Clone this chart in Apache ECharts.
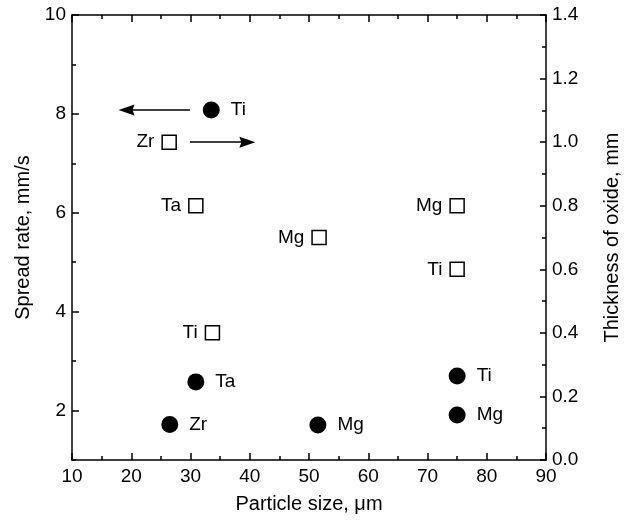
<!DOCTYPE html>
<html>
<head>
<meta charset="utf-8">
<script src="https://cdn.jsdelivr.net/npm/echarts@6/dist/echarts.min.js"></script>
<style>html,body{margin:0;padding:0;background:#fff}#c{width:634px;height:524px}</style>
</head>
<body>
<div id="c"></div>
<script>
// Spread rate (filled circles, left axis)
var circleX = [33.5, 30.9, 26.5, 51.5, 75, 75];
var circleY = [8.08, 2.58, 1.72, 1.71, 2.70, 1.91];
var circleNames = ['Ti', 'Ta', 'Zr', 'Mg', 'Ti', 'Mg'];
// Thickness of oxide (open squares, right axis)
var squareX = [26.4, 30.9, 33.7, 51.7, 75, 75];
var squareY = [1.0, 0.8, 0.4, 0.7, 0.8, 0.6];
var squareNames = ['Zr', 'Ta', 'Ti', 'Mg', 'Mg', 'Ti'];
// Arrows (start -> end) in data coordinates
var arrowLeft = [[29.9, 8.08], [19.2, 8.08]];
var arrowRight = [[29.9, 1.0], [39.6, 1.0]];
// Tick labels
var leftLabels = [2, 4, 6, 8, 10];
var leftMinor = [1, 3, 5, 7, 9];
var xTicks = [10, 20, 30, 40, 50, 60, 70, 80, 90];
var rightTicks = [0.0, 0.2, 0.4, 0.6, 0.8, 1.0, 1.2, 1.4];

var FONT = 'Liberation Sans, Arial, sans-serif';
var INK = '#000';
var chart = echarts.init(document.getElementById('c'), null, {renderer: 'canvas'});

function zip(xs, ys, names) {
  return xs.map(function (x, i) { return {value: [x, ys[i]], name: names[i]}; });
}
function arrow(pair) {
  return [{coord: pair[0]}, {coord: pair[1]}];
}

var lineStyle = {color: '#000', width: 1.5};
var tickFont = {fontFamily: FONT, fontSize: 19, color: INK};
var nameFont = {fontFamily: FONT, fontSize: 20, color: INK};
var markLineBase = {
  silent: true,
  symbol: ['none', 'path://M5,0 L10,16 L5,14 L0,16 Z'],
  symbolSize: [11, 16],
  label: {show: false},
  lineStyle: {color: '#000', width: 1.5, type: 'solid', opacity: 1},
  itemStyle: {color: '#000'}
};
chart.setOption({
  animation: false,
  backgroundColor: '#fff',
  grid: {left: 72, right: 88, top: 15, bottom: 64, containLabel: false},
  xAxis: [{
    type: 'value', min: xTicks[0], max: xTicks[xTicks.length - 1], interval: 10,
    position: 'bottom',
    name: 'Particle size, μm', nameLocation: 'middle', nameGap: 34,
    nameTextStyle: nameFont,
    axisLine: {show: true, lineStyle: lineStyle},
    axisTick: {show: true, inside: true, length: 7, lineStyle: lineStyle},
    minorTick: {show: true, splitNumber: 2, length: 4, lineStyle: lineStyle},
    axisLabel: Object.assign({margin: 7}, tickFont),
    splitLine: {show: false}
  }, {
    type: 'value', min: xTicks[0], max: xTicks[xTicks.length - 1], interval: 10,
    position: 'top',
    axisLine: {show: true, lineStyle: lineStyle},
    axisTick: {show: true, inside: true, length: 7, lineStyle: lineStyle},
    minorTick: {show: true, splitNumber: 2, length: 4, lineStyle: lineStyle},
    axisLabel: {show: false},
    splitLine: {show: false}
  }],
  yAxis: [{
    type: 'value', min: 1, max: 10, position: 'left',
    name: 'Spread rate, mm/s', nameLocation: 'middle', nameGap: 36,
    nameTextStyle: nameFont,
    axisLine: {show: true, lineStyle: lineStyle},
    axisTick: {show: true, inside: true, length: 7, lineStyle: lineStyle, customValues: leftLabels},
    axisLabel: Object.assign({margin: 6, customValues: leftLabels}, tickFont),
    splitLine: {show: false}
  }, {
    type: 'value', min: rightTicks[0], max: rightTicks[rightTicks.length - 1], interval: 0.2,
    position: 'right',
    name: 'Thickness of oxide, mm', nameLocation: 'middle', nameGap: 56,
    nameTextStyle: nameFont,
    axisLine: {show: true, lineStyle: lineStyle},
    axisTick: {show: true, inside: true, length: 6, lineStyle: lineStyle},
    minorTick: {show: true, splitNumber: 2, length: 4, lineStyle: lineStyle},
    axisLabel: Object.assign({margin: 6,
      formatter: function (v) { return v.toFixed(1); }}, tickFont),
    splitLine: {show: false}
  }, {
    type: 'value', min: 1, max: 10, position: 'left',
    axisLine: {show: false},
    axisTick: {show: true, inside: true, length: 4, lineStyle: lineStyle, customValues: leftMinor},
    axisLabel: {show: false},
    splitLine: {show: false}
  }],
  series: [{
    type: 'scatter', xAxisIndex: 0, yAxisIndex: 0,
    symbol: 'circle', symbolSize: 17,
    itemStyle: {color: '#000', opacity: 1},
    label: Object.assign({show: true, position: 'right', distance: 11, formatter: '{b}'}, tickFont),
    data: zip(circleX, circleY, circleNames),
    markLine: Object.assign({data: [arrow(arrowLeft)]}, markLineBase)
  }, {
    type: 'scatter', xAxisIndex: 0, yAxisIndex: 1,
    symbol: 'rect', symbolSize: 14,
    itemStyle: {color: '#fff', borderColor: '#000', borderWidth: 1.5, opacity: 1},
    label: Object.assign({show: true, position: 'left', distance: 7, formatter: '{b}'}, tickFont),
    data: zip(squareX, squareY, squareNames),
    markLine: Object.assign({data: [arrow(arrowRight)]}, markLineBase)
  }]
});
</script>
</body>
</html>
